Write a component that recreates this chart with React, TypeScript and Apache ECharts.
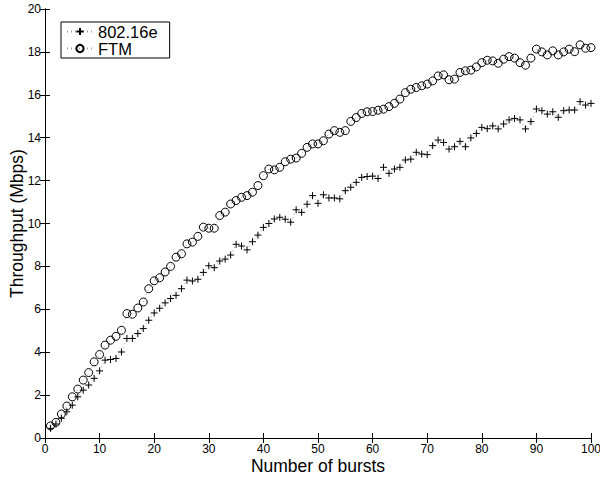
import React, { useEffect, useRef } from "react";
import * as echarts from "echarts";

const bursts: number[] = Array.from({ length: 100 }, (_, i) => i + 1);

const wimax: number[] = [
  0.45, 0.65, 0.92, 1.22, 1.53, 1.92, 2.23, 2.47, 2.78, 3.13,
  3.63, 3.66, 3.71, 4.01, 4.64, 4.64, 4.87, 5.1, 5.49, 5.83,
  6.05, 6.3, 6.5, 6.65, 6.96, 7.36, 7.32, 7.4, 7.72, 8.03,
  7.94, 8.25, 8.34, 8.53, 9.03, 8.95, 8.77, 9.15, 9.46, 9.82,
  10.0, 10.21, 10.29, 10.2, 10.06, 10.64, 10.52, 10.9, 11.3, 10.94,
  11.34, 11.19, 11.19, 11.15, 11.53, 11.69, 11.92, 12.15, 12.19, 12.21,
  12.1, 12.62, 12.34, 12.54, 12.62, 12.96, 13.0, 13.32, 13.24, 13.21,
  13.63, 13.89, 13.78, 13.47, 13.58, 13.83, 13.58, 13.99, 14.2, 14.48,
  14.42, 14.55, 14.41, 14.64, 14.83, 14.9, 14.83, 14.41, 14.75, 15.34,
  15.26, 15.1, 15.21, 14.95, 15.26, 15.29, 15.29, 15.68, 15.52, 15.6,
];

const ftm: number[] = [
  0.56, 0.73, 1.12, 1.49, 1.92, 2.28, 2.7, 3.05, 3.55, 3.89,
  4.33, 4.56, 4.74, 5.02, 5.8, 5.77, 6.06, 6.34, 6.96, 7.33,
  7.47, 7.74, 8.0, 8.43, 8.59, 9.05, 9.13, 9.4, 9.83, 9.78,
  9.78, 10.37, 10.53, 10.91, 11.07, 11.22, 11.3, 11.46, 11.77, 12.23,
  12.54, 12.5, 12.62, 12.88, 13.0, 13.05, 13.27, 13.55, 13.71, 13.71,
  13.86, 14.17, 14.33, 14.25, 14.33, 14.76, 14.94, 15.13, 15.21, 15.22,
  15.28, 15.33, 15.45, 15.6, 15.8, 16.1, 16.26, 16.34, 16.42, 16.5,
  16.65, 16.88, 16.93, 16.7, 16.73, 17.04, 17.12, 17.15, 17.3, 17.5,
  17.61, 17.58, 17.47, 17.66, 17.78, 17.71, 17.5, 17.38, 17.71, 18.13,
  18.0, 17.86, 18.05, 17.86, 18.0, 18.13, 18.01, 18.33, 18.17, 18.2,
];

const seriesNames: string[] = ["802.16e", "FTM"];
const xAxisTitle = "Number of bursts";
const yAxisTitle = "Throughput (Mbps)";

const FONT = "'Liberation Sans', Arial, Helvetica, sans-serif";

export default function App() {
  const ref = useRef<HTMLDivElement>(null);

  useEffect(() => {
    if (!ref.current) return;
    const chart = echarts.init(ref.current, undefined, { renderer: "svg" });

    const axisLine = { show: true, lineStyle: { color: "#000", width: 1 } };
    const axisTick = { show: true, inside: true, length: 5, lineStyle: { color: "#000", width: 1 } };
    const lineStyle = { type: [1, 3] as number[], color: "#a0a0a0", width: 1 };

    chart.setOption({
      animation: false,
      backgroundColor: "#fff",
      grid: {
        left: 45,
        right: 9,
        top: 9,
        bottom: 40,
        containLabel: false,
        outerBoundsMode: "none",
      },
      legend: {
        left: 61,
        top: 22,
        orient: "vertical",
        borderColor: "#000",
        borderWidth: 1,
        borderRadius: 0,
        backgroundColor: "#fff",
        padding: [1, 12, 1, 5],
        itemGap: 0,
        itemWidth: 26,
        itemHeight: 9,
        selectedMode: false,
        textStyle: {
          fontSize: 16.5,
          fontFamily: FONT,
          color: "#000",
          lineHeight: 16,
          padding: [0, 0, 0, 0],
        },
        data: seriesNames,
      },
      xAxis: [
        {
          type: "value",
          min: 0,
          max: 100,
          interval: 10,
          position: "bottom",
          name: xAxisTitle,
          nameLocation: "middle",
          nameGap: 19,
          nameMoveOverlap: false,
          nameTextStyle: { fontSize: 17.5, fontFamily: FONT, color: "#000" },
          axisLine,
          axisTick,
          splitLine: { show: false },
          axisLabel: { fontSize: 12, fontFamily: FONT, color: "#000", margin: 5 },
        },
        {
          type: "value",
          min: 0,
          max: 100,
          interval: 10,
          position: "top",
          axisLine,
          axisTick,
          splitLine: { show: false },
          axisLabel: { show: false },
        },
      ],
      yAxis: [
        {
          type: "value",
          min: 0,
          max: 20,
          interval: 2,
          position: "left",
          name: yAxisTitle,
          nameLocation: "middle",
          nameGap: 19,
          nameMoveOverlap: false,
          nameTextStyle: { fontSize: 17.5, fontFamily: FONT, color: "#000" },
          axisLine,
          axisTick,
          splitLine: { show: false },
          axisLabel: { fontSize: 12, fontFamily: FONT, color: "#000", margin: 4 },
        },
        {
          type: "value",
          min: 0,
          max: 20,
          interval: 2,
          position: "right",
          axisLine,
          axisTick,
          splitLine: { show: false },
          axisLabel: { show: false },
        },
      ],
      series: [
        {
          name: seriesNames[0],
          type: "line",
          data: bursts.map((x, i) => [x, wimax[i]]),
          symbol: "path://M0,-5L0,5M-5,0L5,0",
          symbolSize: 7,
          showSymbol: true,
          showAllSymbol: true,
          silent: true,
          itemStyle: { color: "rgba(0,0,0,0)", borderColor: "#000", borderWidth: 1 },
          lineStyle,
          emphasis: { disabled: true },
        },
        {
          name: seriesNames[1],
          type: "line",
          data: bursts.map((x, i) => [x, ftm[i]]),
          symbol: "circle",
          symbolSize: 8,
          showSymbol: true,
          showAllSymbol: true,
          silent: true,
          itemStyle: { color: "rgba(0,0,0,0)", borderColor: "#000", borderWidth: 1 },
          lineStyle,
          emphasis: { disabled: true },
        },
      ],
    });

    return () => chart.dispose();
  }, []);

  return (
    <div
      ref={ref}
      style={{ position: "fixed", left: 0, top: 0, width: 600, height: 478 }}
    />
  );
}
